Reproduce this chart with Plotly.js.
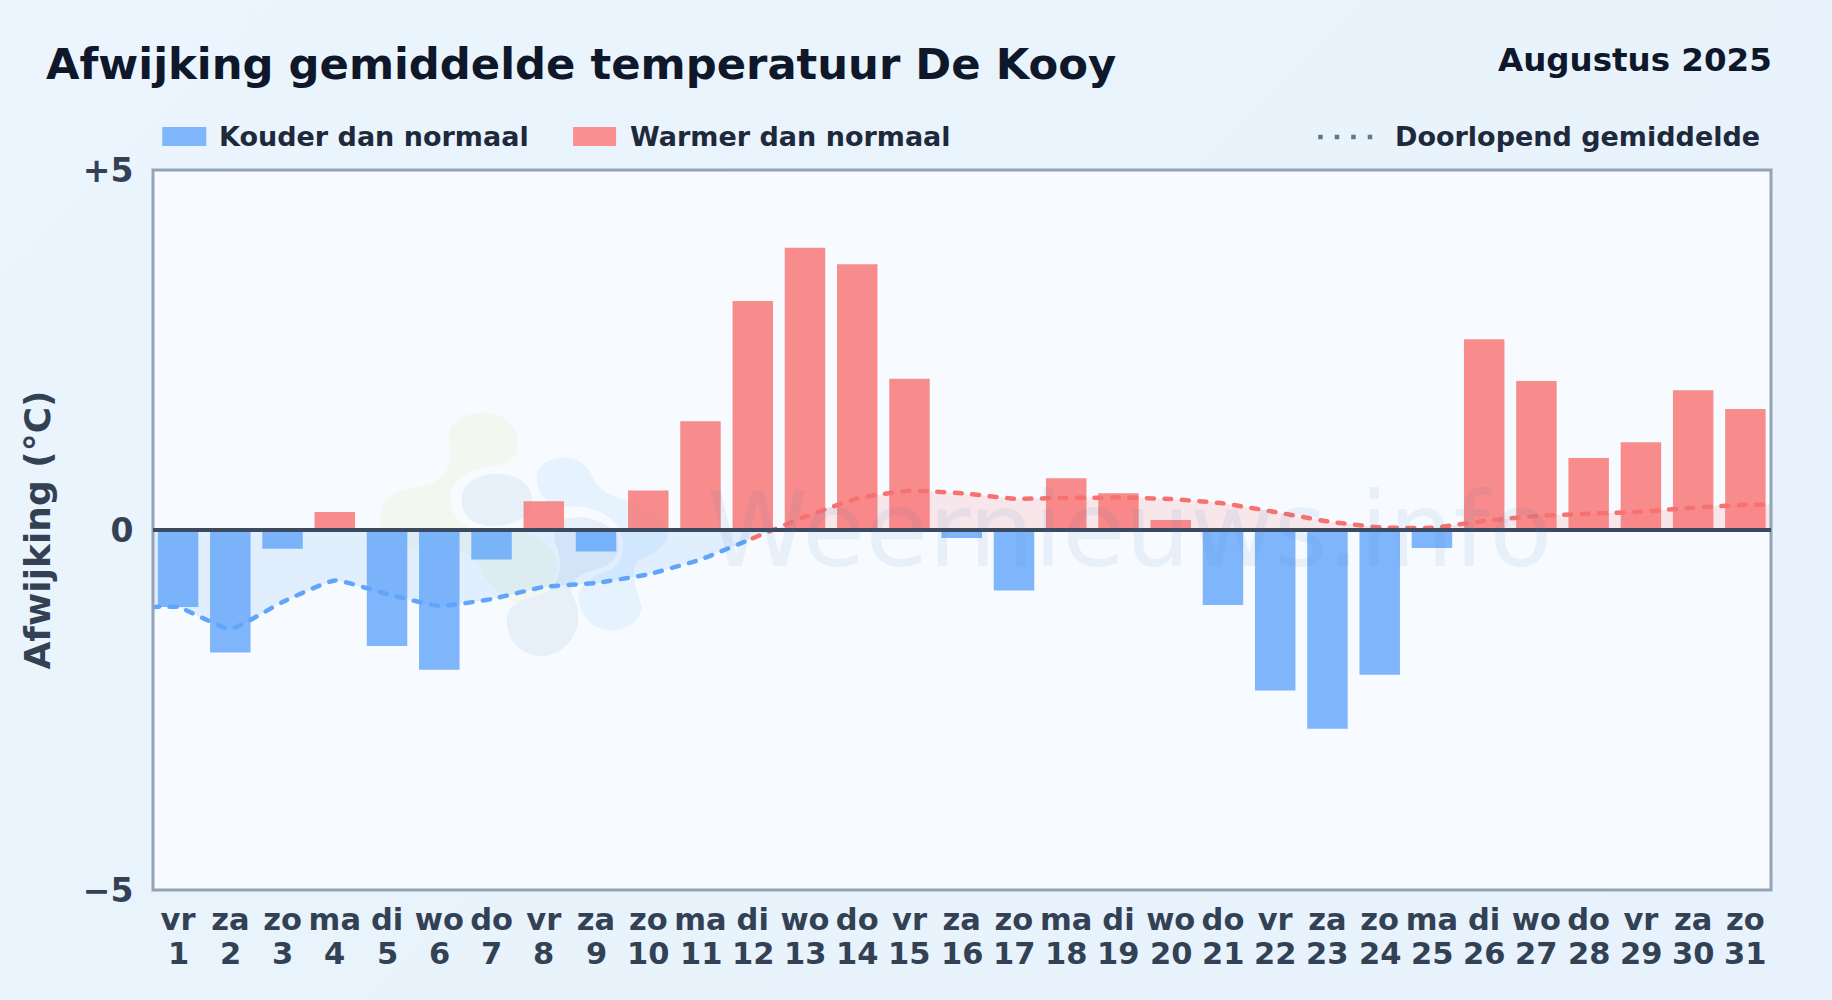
<!DOCTYPE html>
<html><head><meta charset="utf-8">
<script src="https://cdn.plot.ly/plotly-3.0.1.min.js"></script>
<style>html,body{margin:0;padding:0;width:1832px;height:1000px;overflow:hidden;background:linear-gradient(135deg,#ecf5fd 0%,#e8f3fc 45%,#e7f2fc 100%);}#c{width:1832px;height:1000px}</style>
</head><body><div id="c"></div>
<script>
const weekdays = ["vr","za","zo","ma","di","wo","do","vr","za","zo","ma","di","wo","do","vr","za","zo","ma","di","wo","do","vr","za","zo","ma","di","wo","do","vr","za","zo"];
const days = [1,2,3,4,5,6,7,8,9,10,11,12,13,14,15,16,17,18,19,20,21,22,23,24,25,26,27,28,29,30,31];
const deviation = [-1.07,-1.70,-0.26,0.25,-1.61,-1.94,-0.41,0.40,-0.30,0.55,1.51,3.18,3.92,3.69,2.10,-0.11,-0.84,0.72,0.51,0.14,-1.04,-2.23,-2.76,-2.01,-0.25,2.65,2.07,1.00,1.22,1.94,1.68];
const avgColdX = [0.5,1,2,3,4,5,6,7,8,9,10,11,12];
const avgColdY = [-1.07,-1.07,-1.375,-1.00,-0.70,-0.89,-1.055,-0.96,-0.79,-0.736,-0.615,-0.41,-0.115];
const avgWarmX = [13,14,15,16,17,18,19,20,21,22,23,24,25,26,27,28,29,30,31,31.5];
const avgWarmY = [0.185,0.44,0.546,0.51,0.435,0.445,0.45,0.43,0.37,0.25,0.12,0.037,0.03,0.125,0.194,0.226,0.254,0.31,0.35,0.35];
const crossX = [12.39];
const crossY = [0];
const yTickVals = [-5,0,5];
const yTickText = ["\u22125","0","+5"];

const W=1832,H=1000,L=152.7,R=1771.5,T=170,B=890;
const px=v=>(v-L)/(R-L), py=v=>(B-v)/(B-T);
const F="DejaVu Sans";
const cold="rgba(96,165,250,0.8)", warm="rgba(248,113,113,0.8)";
const xRange=[0.52,31.49];
const smooth=0.4;
const none="rgba(0,0,0,0)";

const logo=`<svg xmlns="http://www.w3.org/2000/svg" viewBox="0 0 1020 870" width="1020" height="870">
<path fill="#f2f8ef" d="M60 415C55 340 85 305 150 295C220 285 265 265 270 200C272 160 258 140 270 115C290 75 370 55 410 75C455 90 480 130 472 175C465 215 430 225 380 232C310 245 270 280 270 330C270 370 300 400 340 420L500 430C560 450 600 490 590 550C575 610 520 630 470 640C420 620 380 580 360 530C320 480 250 440 200 480C140 480 70 470 60 415Z"/>
<path fill="#e7eff8" d="M305 330C305 280 350 250 420 252C480 255 510 285 515 320C520 360 500 385 460 398C410 415 365 408 335 392C315 378 305 355 305 330Z"/>
<path fill="#e6f3fe" d="M530 260C530 220 580 198 625 203C670 208 690 240 705 275C725 310 780 325 830 340C890 355 925 400 925 430C925 470 880 490 840 510C805 530 830 600 845 650C840 700 790 725 745 720C690 715 655 670 655 620C655 590 690 560 750 540C800 510 800 440 760 395C720 350 640 345 600 352C550 340 530 300 530 260Z"/>
<path fill="#e7eff8" d="M610 390C660 370 740 385 770 440C790 490 760 530 700 540C660 550 630 570 635 610C650 640 655 660 655 690C650 750 600 800 540 798C480 795 440 750 440 690C440 640 490 630 550 610C600 590 610 520 590 470C575 430 585 400 610 390Z"/>
</svg>`;

const dashed=c=>({color:c,width:4.5,dash:"7px,10.5px",shape:"spline",smoothing:smooth});
const traces=[
 {type:"bar",name:"Kouder dan normaal",x:days,y:deviation.map(v=>v<0?v:null),marker:{color:cold,line:{width:0}},showlegend:false,hoverinfo:"skip"},
 {type:"bar",name:"Warmer dan normaal",x:days,y:deviation.map(v=>v>=0?v:null),marker:{color:warm,line:{width:0}},showlegend:false,hoverinfo:"skip"},
 {type:"scatter",mode:"lines",x:avgColdX.concat(crossX),y:avgColdY.concat(crossY),fill:"tozeroy",fillcolor:"rgba(96,165,250,0.15)",line:{width:0,shape:"spline",smoothing:smooth},showlegend:false,hoverinfo:"skip"},
 {type:"scatter",mode:"lines",x:crossX.concat(avgWarmX),y:crossY.concat(avgWarmY),fill:"tozeroy",fillcolor:"rgba(248,113,113,0.14)",line:{width:0,shape:"spline",smoothing:smooth},showlegend:false,hoverinfo:"skip"},
 {type:"scatter",mode:"lines",name:"Doorlopend gemiddelde",x:avgColdX,y:avgColdY,line:dashed("#60a5fa"),showlegend:false,hoverinfo:"skip"},
 {type:"scatter",mode:"lines",name:"Doorlopend gemiddelde",x:avgColdX.slice(-1).concat(avgWarmX),y:avgColdY.slice(-1).concat(avgWarmY),line:dashed("#f87171"),showlegend:false,hoverinfo:"skip"}
];
const txt=(text,x,y,size,color,anchor,weight)=>({text,xref:"paper",yref:"paper",x:px(x),y:py(y),xanchor:anchor||"left",yanchor:"middle",showarrow:false,font:{family:F,size,color,weight:weight||700}});
const tickFont={family:F,size:30.5,color:"#334155",weight:700};
const dayNumbers=days.map(d=>({text:String(d),xref:"x",yref:"paper",x:d,y:py(954),xanchor:"center",yanchor:"middle",showarrow:false,font:tickFont}));
const layout={
 width:W,height:H,paper_bgcolor:"rgba(0,0,0,0)",plot_bgcolor:"#f7fbff",
 margin:{l:L,r:W-R,t:T,b:H-B,pad:0},barmode:"overlay",bargap:0.225,showlegend:false,
 title:{text:"Afwijking gemiddelde temperatuur De Kooy",x:46/W,xref:"container",xanchor:"left",y:1-64/H,yref:"container",yanchor:"middle",font:{family:F,size:43.3,color:"#0f172a",weight:700}},
 xaxis:{range:xRange,tickmode:"array",tickvals:days,ticktext:weekdays,showgrid:false,zeroline:false,showline:true,linecolor:none,linewidth:3,ticks:"",ticklabelstandoff:2.5,tickfont:tickFont,tickangle:0},
 yaxis:{range:[-5,5],tickmode:"array",tickvals:yTickVals,ticktext:yTickText,showgrid:false,zeroline:false,showline:true,linecolor:none,linewidth:3,ticks:"",ticklabelstandoff:10,tickfont:{family:F,size:33,color:"#334155",weight:700},
   title:{text:"Afwijking (\u00b0C)",standoff:22,font:{family:F,size:36,color:"#334155",weight:700}}},
 images:[{source:"data:image/svg+xml;charset=utf-8,"+encodeURIComponent(logo),xref:"paper",yref:"paper",x:px(360),y:py(390),sizex:340/(R-L),sizey:290/(B-T),sizing:"stretch",xanchor:"left",yanchor:"top",layer:"below"}],
 shapes:[
  {type:"rect",xref:"paper",yref:"paper",x0:0,x1:1,y0:0,y1:1,line:{color:"#94a3b8",width:3},fillcolor:"rgba(0,0,0,0)",layer:"above"},
  {type:"line",xref:"paper",yref:"y",x0:0,x1:1,y0:0,y1:0,line:{color:"#3b4a5f",width:4},layer:"above"},
  {type:"rect",xref:"paper",yref:"paper",x0:px(162),x1:px(206),y0:py(146),y1:py(127),fillcolor:"#80b6fb",line:{width:0}},
  {type:"rect",xref:"paper",yref:"paper",x0:px(573),x1:px(616),y0:py(146),y1:py(127),fillcolor:"#f98f90",line:{width:0}},
  {type:"line",xref:"paper",yref:"paper",x0:px(1318.5),x1:px(1376.5),y0:py(137),y1:py(137),line:{color:"#64748b",width:4.5,dash:"4.5px,12px"}}
 ],
 annotations:[
  txt("Weernieuws.info",1130,530,102.5,"rgba(70,120,190,0.085)","center",400),
  txt("Augustus 2025",1774.5,60,32.5,"#0f172a","right"),
  txt("Kouder dan normaal",217,137,27,"#1e293b"),
  txt("Warmer dan normaal",628,137,27,"#1e293b"),
  txt("Doorlopend gemiddelde",1393.5,137,27,"#1e293b")
 ].concat(dayNumbers)
};
Plotly.newPlot("c",traces,layout,{displayModeBar:false,staticPlot:true}).then(()=>{
 document.querySelectorAll(".scatterlayer .js-line").forEach(e=>{e.style.strokeLinecap="round";e.setAttribute("stroke-linecap","round");});
});
</script></body></html>
